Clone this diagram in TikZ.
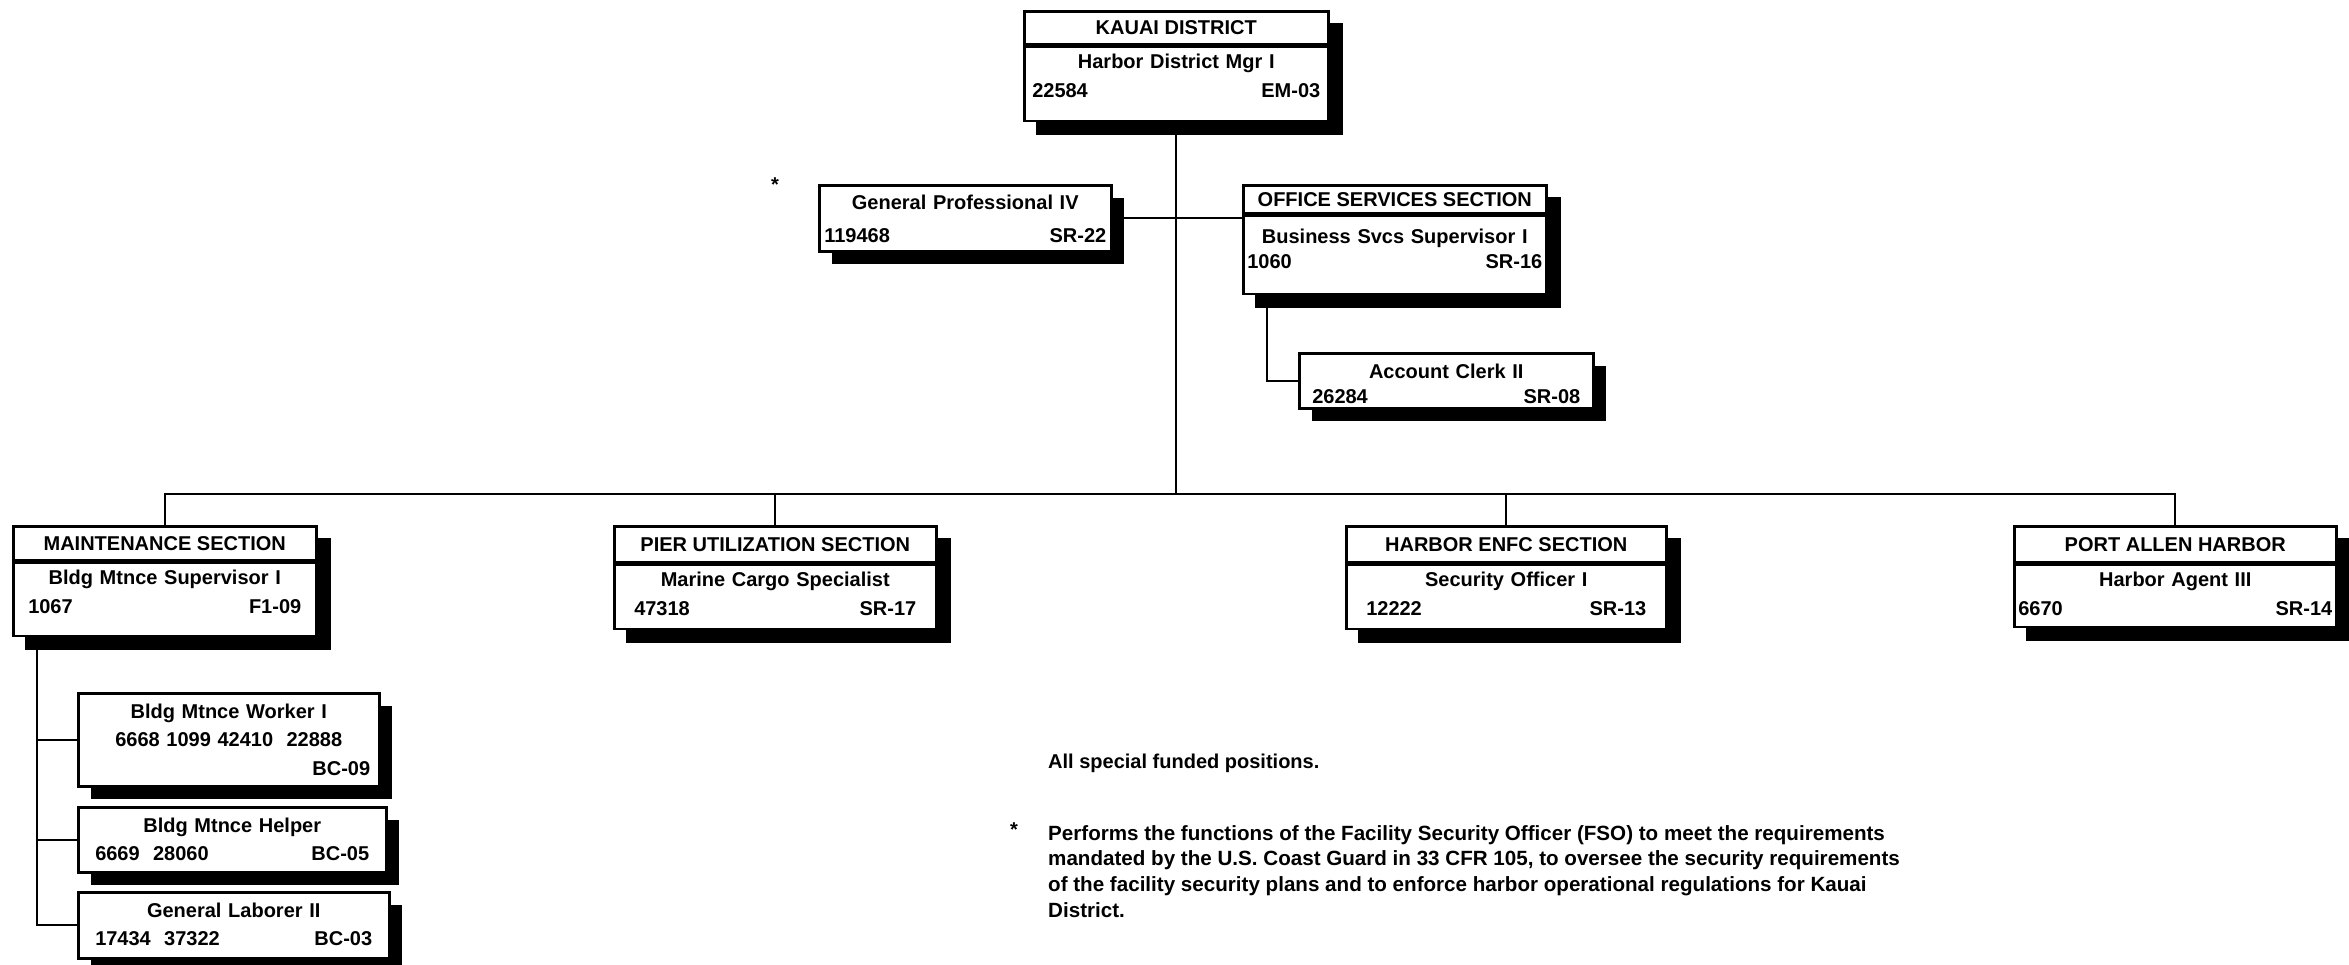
\documentclass[tikz,border=0pt]{standalone}
\usepackage{fontspec}
\setmainfont{Liberation Sans}
\usetikzlibrary{positioning,shadows,backgrounds}

% filll glue, stronger than the centring of the node text
\newcommand{\posgap}{\hspace*{0pt plus 1filll}}

\begin{document}
\begin{tikzpicture}[x=1pt,y=-1pt,
		every node/.style={font=\fontsize{20}{28.5}\selectfont\bfseries},
		boxshadow/.style={drop shadow={shadow xshift=13pt,shadow yshift=-13pt,fill=black,opacity=1}},
		titlebox/.style 2 args={draw,fill=white,line width=2.5pt,
			minimum width=#1pt,minimum height=#2pt,inner sep=0pt},
		% width / height / side padding / first baseline below the top
		jobbox/.style n args={4}{draw,fill=white,line width=2.5pt,boxshadow,
			minimum width=#1pt,inner ysep=0pt,inner xsep=#3pt,
			text width=#1pt-2*#3pt,align=center,
			text height=#4pt,text depth=#2pt-#4pt},
		notetext/.style={inner sep=0pt,align=left},
		link/.style={line width=2pt}]
	
	\useasboundingbox (0,0) rectangle (2349,964);
	
	% District head
	\node[titlebox={304}{33},anchor=north west] (kauaiHead) at (1023,10) {KAUAI DISTRICT};
	\node[jobbox={304}{74}{8}{22},below=0pt of kauaiHead] (kauai) {Harbor District Mgr I\\22584\posgap EM-03};
	
	% Staff under the district head
	\node (gpstar) at (775,185) {*};
	\node[jobbox={292}{66}{5}{24},anchor=north west,font=\fontsize{20}{33}\selectfont\bfseries] (genprof) at (818,184)
		{General Professional IV\\119468\posgap SR-22};
	\node[titlebox={303}{28},anchor=north west] (officeHead) at (1242,184) {OFFICE SERVICES SECTION};
	\node[jobbox={303}{78}{4}{28},below=0pt of officeHead,font=\fontsize{20}{25}\selectfont\bfseries] (office)
		{Business Svcs Supervisor I\\1060\posgap SR-16};
	\node[jobbox={294}{55}{13}{25},anchor=north west,font=\fontsize{20}{25}\selectfont\bfseries] (clerk) at (1298,352)
		{Account Clerk II\\26284\posgap SR-08};
	
	% Sections: name/left/width/title height/body height/padding/title/position/number/grade
	\foreach \nm/\x/\w/\hh/\hb/\sep/\ttl/\job/\num/\grd in {
		maint/12/303/34/73/15/MAINTENANCE SECTION/Bldg Mtnce Supervisor I/1067/F1-09,
		pier/613/322/36/64/20/PIER UTILIZATION SECTION/Marine Cargo Specialist/47318/SR-17,
		enfc/1345/320/36/64/20/HARBOR ENFC SECTION/Security Officer I/12222/SR-13,
		port/2013/322/36/62/4/PORT ALLEN HARBOR/Harbor Agent III/6670/SR-14}{
		\node[titlebox={\w}{\hh},anchor=north west] (\nm Head) at (\x,525) {\ttl};
		\node[jobbox={\w}{\hb}{\sep}{22},below=0pt of \nm Head] (\nm) {\job\\\num\posgap\grd};
	}
	
	% Maintenance staff
	\node[jobbox={301}{93}{9}{25},anchor=north west] (worker) at (77,692) {Bldg Mtnce Worker I\\6668 1099 42410\ \ 22888\\\posgap BC-09};
	\node[jobbox={308}{65}{17}{25},anchor=north west] (helper) at (77,806) {Bldg Mtnce Helper\\6669\ \ 28060\posgap BC-05};
	\node[jobbox={311}{66}{17}{25},anchor=north west] (laborer) at (77,891) {General Laborer II\\17434\ \ 37322\posgap BC-03};
	
	% One shadow behind each titled box
	\begin{scope}[on background layer]
		\foreach \nm in {kauai,office,maint,pier,enfc,port}{
			\fill ([shift={(13pt,-13pt)}]\nm Head.north west) rectangle ([shift={(13pt,-13pt)}]\nm.south east);
		}
	\end{scope}
	
	% Lines of authority
	\coordinate (bus) at (kauai.south |- 0,494);
	\draw[link] (kauai.south) -- (bus);
	\draw[link] (maintHead.north) |- (bus) -| (portHead.north);
	\foreach \nm in {pier,enfc}{
		\draw[link] (\nm Head.north) -- (\nm Head.north |- bus);
	}
	\draw[link] (genprof.east) -- (genprof.east -| office.west);
	\draw[link] ([xshift=25pt]office.south west) |- (clerk.west);
	\coordinate (mtrunk) at ([xshift=25pt]maint.south west);
	\draw[link] (mtrunk) |- (laborer.west);
	\foreach \nm in {worker,helper}{
		\draw[link] (\nm.west) -- (\nm.west -| mtrunk);
	}
	
	% Notes
	\node[notetext,anchor=west] (fundnote) at (1048,763) {All special funded positions.};
	\node[notetext,anchor=north west] (fsostar) at (1010,823) {*};
	\node[notetext,anchor=north west,font=\fontsize{20.6}{25.7}\selectfont\bfseries] (fsonote) at (1048,825)
		{Performs the functions of the Facility Security Officer (FSO) to meet the requirements\\
		mandated by the U.S. Coast Guard in 33 CFR 105, to oversee the security requirements\\
		of the facility security plans and to enforce harbor operational regulations for Kauai\\
		District.};
	
\end{tikzpicture}
\end{document}
